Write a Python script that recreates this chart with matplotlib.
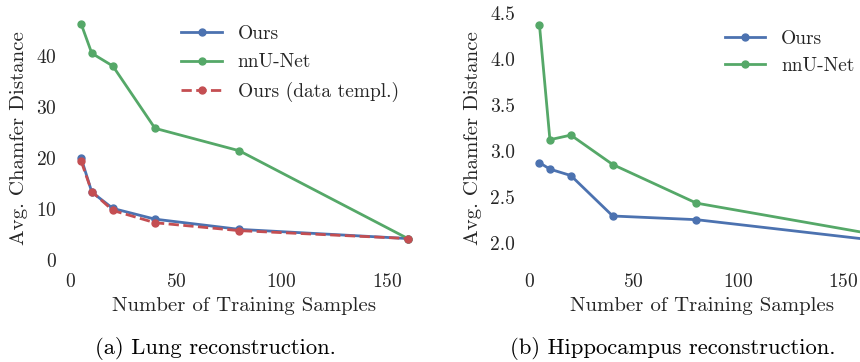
import numpy as np
import matplotlib
matplotlib.use("Agg")
import matplotlib.pyplot as plt

# training set sizes
samples = [5, 10, 20, 40, 80, 160]

# (a) lung
lung_ours = [19.9, 13.3, 10.1, 8.0, 6.0, 4.2]
lung_nnunet = [46.2, 40.5, 38.0, 25.8, 21.4, 4.2]
lung_templ = [19.3, 13.4, 9.7, 7.3, 5.75, 4.2]

# (b) hippocampus
hip_ours = [2.87, 2.80, 2.73, 2.29, 2.25, 2.04]
hip_nnunet = [4.37, 3.12, 3.17, 2.85, 2.43, 2.11]

BLUE = "#4C72B0"
GREEN = "#55A868"
RED = "#C44E52"
TXT = "#262626"

plt.rcParams.update({
    "font.family": "serif",
    "font.serif": ["cmr10"],
    "mathtext.fontset": "cm",
    "axes.formatter.use_mathtext": True,
    "font.size": 14,
    "text.color": TXT,
    "axes.labelcolor": TXT,
    "xtick.color": TXT,
    "ytick.color": TXT,
})

fig = plt.figure(figsize=(8.6, 3.62), dpi=100)
ax1 = fig.add_axes([0.0755, 0.268, 0.4177, 0.699])
ax2 = fig.add_axes([0.6084, 0.268, 0.415, 0.699])

lkw = dict(marker="o", markersize=5, linewidth=2)
ax1.plot(samples, lung_ours, color=BLUE, label="Ours", **lkw)
ax1.plot(samples, lung_nnunet, color=GREEN, label="nnU-Net", **lkw)
ax1.plot(samples, lung_templ, color=RED, linestyle="--", label="Ours (data templ.)", **lkw)

ax2.plot(samples, hip_ours, color=BLUE, label="Ours", **lkw)
ax2.plot(samples, hip_nnunet, color=GREEN, label="nnU-Net", **lkw)

for ax in (ax1, ax2):
    ax.set_xlim(-2.75, 167.75)
    ax.set_xticks([0, 50, 100, 150])
    for s in ax.spines.values():
        s.set_visible(False)
    ax.tick_params(length=0, labelsize=14, pad=6)
    ax.set_xlabel("Number of Training Samples", fontsize=15, labelpad=4)
    ax.set_ylabel("Avg. Chamfer Distance", fontsize=15, labelpad=6)
    ax.patch.set_alpha(0)

ax1.set_ylim(-0.98, 48.6)
ax1.set_yticks([0, 10, 20, 30, 40])
ax2.set_ylim(1.757, 4.51)
ax2.set_yticks([2.0, 2.5, 3.0, 3.5, 4.0, 4.5])
ax2.yaxis.set_major_formatter(matplotlib.ticker.FormatStrFormatter("%.1f"))

ax1.legend(loc="upper left", bbox_to_anchor=(0.275, 1.018), frameon=False,
           fontsize=14, handlelength=2.1, labelspacing=0.55)
ax2.legend(loc="upper left", bbox_to_anchor=(0.515, 0.999), frameon=False,
           fontsize=14, handlelength=2.1, labelspacing=0.5)

fig.text(215 / 860, 1 - 349 / 362, "(a) Lung reconstruction.", ha="center", va="center",
         fontsize=16.3, color="black")
fig.text(673 / 860, 1 - 349 / 362, "(b) Hippocampus reconstruction.", ha="center", va="center",
         fontsize=16.3, color="black")

fig.savefig("out.png", dpi=100)
